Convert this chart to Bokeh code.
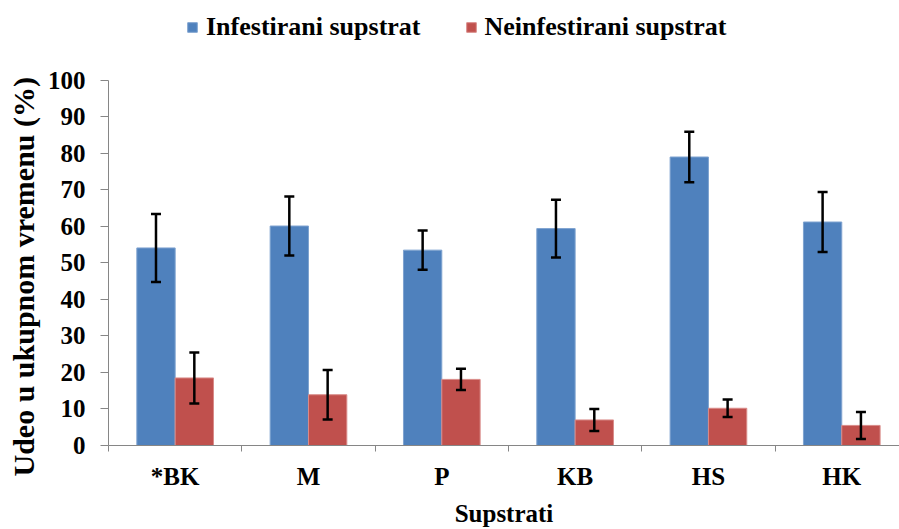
import numpy as np
from bokeh.plotting import figure
from bokeh.models import (ColumnDataSource, Range1d, FixedTicker, Whisker, TeeHead,
                          Legend, LegendItem, Title)
from bokeh.embed import file_html
from bokeh.resources import INLINE

categories = ["*BK", "M", "P", "KB", "HS", "HK"]
infest = [54.1, 60.1, 53.5, 59.4, 79.0, 61.2]
infest_err = [9.3, 8.1, 5.4, 7.9, 6.9, 8.2]
neinf = [18.5, 13.9, 18.1, 7.0, 10.2, 5.5]
neinf_err = [7.0, 6.8, 2.9, 3.0, 2.4, 3.7]
yticks = list(range(0, 101, 10))

FONT = "Liberation Serif"
BLUE = "#4F81BD"
RED = "#C0504D"
GREY = "#868686"

n = len(categories)
centers = np.arange(n) + 0.5
bar_w = 0.2875
x_inf = centers - bar_w / 2
x_nei = centers + bar_w / 2

src_inf = ColumnDataSource(dict(x=x_inf, top=infest,
                                upper=np.array(infest) + np.array(infest_err),
                                lower=np.array(infest) - np.array(infest_err)))
src_nei = ColumnDataSource(dict(x=x_nei, top=neinf,
                                upper=np.array(neinf) + np.array(neinf_err),
                                lower=np.array(neinf) - np.array(neinf_err)))

# frame spans the full height above the x axis; the y axis line is bounded to 0..100
p = figure(width=899, height=529, output_backend="svg", toolbar_location=None,
           x_range=Range1d(0, 5.933), y_range=Range1d(0, 121.86),
           min_border_left=108, min_border_right=0, min_border_top=0,
           min_border_bottom=83)
p.outline_line_color = None
p.grid.grid_line_color = None
p.background_fill_color = "white"

r1 = p.vbar(x="x", top="top", width=bar_w, source=src_inf, fill_color=BLUE,
            line_color="#7FA3D0", line_width=1)
r2 = p.vbar(x="x", top="top", width=bar_w, source=src_nei, fill_color=RED,
            line_color="#D98B89", line_width=1)

for src in (src_inf, src_nei):
    w = Whisker(base="x", upper="upper", lower="lower", source=src, dimension="height",
                level="overlay", line_color="black", line_width=2.5,
                upper_head=TeeHead(size=10, line_color="black", line_width=2.5),
                lower_head=TeeHead(size=10, line_color="black", line_width=2.5))
    p.add_layout(w)

# y axis
ya = p.yaxis[0]
ya.bounds = (0, 100)
ya.ticker = FixedTicker(ticks=yticks)
ya.axis_line_color = GREY
ya.major_tick_line_color = GREY
ya.major_tick_out = 8
ya.major_tick_in = 0
ya.minor_tick_line_color = None
ya.major_label_standoff = 15
ya.major_label_text_font = FONT
ya.major_label_text_font_style = "bold"
ya.major_label_text_font_size = "25px"
ya.major_label_text_color = "black"

# y axis title, starting just below the x axis line and reading upward
ytitle = Title(text="Udeo u ukupnom  vremenu (%)", align="left", offset=-31,
               vertical_align="middle", standoff=8, text_font=FONT,
               text_font_style="bold", text_font_size="30px", text_color="black")
p.add_layout(ytitle, "left")

# x axis
xa = p.xaxis[0]
xa.ticker = FixedTicker(ticks=list(centers), minor_ticks=list(np.arange(n + 1)))
xa.major_label_overrides = {float(c): lab for c, lab in zip(centers, categories)}
xa.axis_line_color = GREY
xa.major_tick_line_color = None
xa.major_tick_out = 0
xa.major_tick_in = 0
xa.minor_tick_line_color = GREY
xa.minor_tick_out = 6
xa.minor_tick_in = 0
xa.major_label_standoff = 11
xa.major_label_text_font = FONT
xa.major_label_text_font_style = "bold"
xa.major_label_text_font_size = "25px"
xa.major_label_text_color = "black"
xa.axis_label = "Supstrati"
xa.axis_label_text_font = FONT
xa.axis_label_text_font_style = "bold"
xa.axis_label_text_font_size = "25px"
xa.axis_label_text_color = "black"
xa.axis_label_standoff = 7

legend = Legend(items=[LegendItem(label="Infestirani supstrat", renderers=[r1]),
                       LegendItem(label="Neinfestirani supstrat", renderers=[r2])],
                location=(78, 403), orientation="horizontal",
                glyph_width=12, glyph_height=12, label_standoff=8, spacing=44,
                padding=0, margin=0, border_line_color=None,
                background_fill_alpha=0,
                label_text_font=FONT, label_text_font_style="bold",
                label_text_font_size="26px", label_text_color="black")
p.add_layout(legend, "center")

open("out.html", "w").write(file_html(p, INLINE))
